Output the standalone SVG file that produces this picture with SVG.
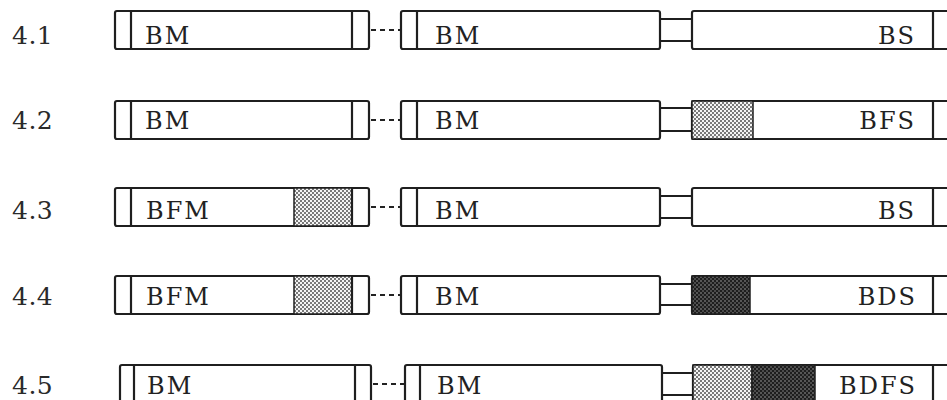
<svg xmlns="http://www.w3.org/2000/svg" width="947" height="400" viewBox="0 0 947 400">
<defs>
<pattern id="light" width="4" height="4" patternUnits="userSpaceOnUse">
<rect width="4" height="4" fill="#f4f4f4"/>
<circle cx="1" cy="1" r="0.95" fill="#444"/>
<circle cx="3" cy="3" r="0.95" fill="#444"/>
</pattern>
<pattern id="dark" width="4" height="4" patternUnits="userSpaceOnUse">
<rect width="4" height="4" fill="#1e1e1e"/>
<circle cx="1" cy="1" r="0.7" fill="#bbb"/>
<circle cx="3" cy="3" r="0.7" fill="#999"/>
</pattern>
</defs>
<style>
.box{fill:#fff;stroke:#1f1f1f;stroke-width:2.2}
.ln{stroke:#1f1f1f;stroke-width:2.2;fill:none}
.sh{stroke:#1f1f1f;stroke-width:1.5}
.dash{stroke:#222;stroke-width:2;stroke-dasharray:5 4;fill:none}
.t{font-family:"DejaVu Serif","Liberation Serif",serif;font-size:24px;fill:#222;letter-spacing:2px}
.num{font-family:"DejaVu Serif","Liberation Serif",serif;font-size:25px;fill:#2a2a2a;letter-spacing:0.5px}
</style>
<rect width="947" height="400" fill="#fff"/>

<!-- Row 4.1 -->
<text class="num" x="12" y="44">4.1</text>
<g id="r1-left">
<rect class="box" x="115" y="11" width="254" height="38" rx="2"/>
<line class="ln" x1="131" y1="11" x2="131" y2="49"/>
<line class="ln" x1="352" y1="11" x2="352" y2="49"/>
<text class="t" x="145" y="44">BM</text>
</g>
<g id="r1-mid">
<rect class="box" x="401" y="11" width="259" height="38" rx="2"/>
<line class="ln" x1="417" y1="11" x2="417" y2="49"/>
<text class="t" x="435" y="44">BM</text>
</g>
<g id="r1-right">
<rect class="box" x="692" y="11" width="270" height="38" rx="2"/>
<line class="ln" x1="933" y1="11" x2="933" y2="49"/>
<text class="t" x="916" y="44" text-anchor="end">BS</text>
</g>

<!-- Row 4.2 -->
<text class="num" x="12" y="129">4.2</text>
<g id="r2-left">
<rect class="box" x="115" y="101" width="254" height="38" rx="2"/>
<line class="ln" x1="131" y1="101" x2="131" y2="139"/>
<line class="ln" x1="352" y1="101" x2="352" y2="139"/>
<text class="t" x="145" y="129">BM</text>
</g>
<g id="r2-mid">
<rect class="box" x="401" y="101" width="259" height="38" rx="2"/>
<line class="ln" x1="417" y1="101" x2="417" y2="139"/>
<text class="t" x="435" y="129">BM</text>
</g>
<g id="r2-right">
<rect class="box" x="692" y="101" width="270" height="38" rx="2"/>
<rect class="sh" x="692" y="101" width="61" height="38" fill="url(#light)"/>
<line class="ln" x1="933" y1="101" x2="933" y2="139"/>
<text class="t" x="916" y="129" text-anchor="end">BFS</text>
</g>

<!-- Row 4.3 -->
<text class="num" x="12" y="219">4.3</text>
<g id="r3-left">
<rect class="box" x="115" y="188" width="254" height="38" rx="2"/>
<rect class="sh" x="294" y="188" width="58" height="38" fill="url(#light)"/>
<line class="ln" x1="131" y1="188" x2="131" y2="226"/>
<line class="ln" x1="352" y1="188" x2="352" y2="226"/>
<text class="t" x="146" y="219">BFM</text>
</g>
<g id="r3-mid">
<rect class="box" x="401" y="188" width="259" height="38" rx="2"/>
<line class="ln" x1="417" y1="188" x2="417" y2="226"/>
<text class="t" x="435" y="219">BM</text>
</g>
<g id="r3-right">
<rect class="box" x="692" y="188" width="270" height="38" rx="2"/>
<line class="ln" x1="933" y1="188" x2="933" y2="226"/>
<text class="t" x="916" y="219" text-anchor="end">BS</text>
</g>

<!-- Row 4.4 -->
<text class="num" x="12" y="305">4.4</text>
<g id="r4-left">
<rect class="box" x="115" y="276" width="254" height="38" rx="2"/>
<rect class="sh" x="294" y="276" width="58" height="38" fill="url(#light)"/>
<line class="ln" x1="131" y1="276" x2="131" y2="314"/>
<line class="ln" x1="352" y1="276" x2="352" y2="314"/>
<text class="t" x="146" y="305">BFM</text>
</g>
<g id="r4-mid">
<rect class="box" x="401" y="276" width="259" height="38" rx="2"/>
<line class="ln" x1="417" y1="276" x2="417" y2="314"/>
<text class="t" x="435" y="305">BM</text>
</g>
<g id="r4-right">
<rect class="box" x="692" y="276" width="270" height="38" rx="2"/>
<rect class="sh" x="692" y="276" width="58" height="38" fill="url(#dark)"/>
<line class="ln" x1="933" y1="276" x2="933" y2="314"/>
<text class="t" x="917" y="305" text-anchor="end">BDS</text>
</g>

<!-- Row 4.5 -->
<text class="num" x="12" y="394">4.5</text>
<g id="r5-left">
<rect class="box" x="120" y="365" width="251" height="38" rx="2"/>
<line class="ln" x1="134" y1="365" x2="134" y2="403"/>
<line class="ln" x1="355" y1="365" x2="355" y2="403"/>
<text class="t" x="147" y="394">BM</text>
</g>
<g id="r5-mid">
<rect class="box" x="405" y="365" width="257" height="38" rx="2"/>
<line class="ln" x1="420" y1="365" x2="420" y2="403"/>
<text class="t" x="437" y="394">BM</text>
</g>
<g id="r5-right">
<rect class="box" x="693" y="365" width="270" height="38" rx="2"/>
<rect class="sh" x="693" y="365" width="59" height="38" fill="url(#light)"/>
<rect class="sh" x="752" y="365" width="63" height="38" fill="url(#dark)"/>
<line class="ln" x1="933" y1="365" x2="933" y2="403"/>
<text class="t" x="917" y="394" text-anchor="end">BDFS</text>
</g>

<g id="connectors">
<line class="dash" x1="371" y1="30" x2="400" y2="30"/>
<line class="dash" x1="371" y1="120" x2="400" y2="120"/>
<line class="dash" x1="371" y1="207" x2="400" y2="207"/>
<line class="dash" x1="371" y1="295" x2="400" y2="295"/>
<line class="dash" x1="373" y1="384" x2="404" y2="384"/>
<path class="ln" d="M660 19H692M660 41H692"/>
<path class="ln" d="M660 108H692M660 131H692"/>
<path class="ln" d="M660 196H692M660 218H692"/>
<path class="ln" d="M660 284H692M660 305H692"/>
<path class="ln" d="M662 373H693M662 395H693"/>
</g>
</svg>
